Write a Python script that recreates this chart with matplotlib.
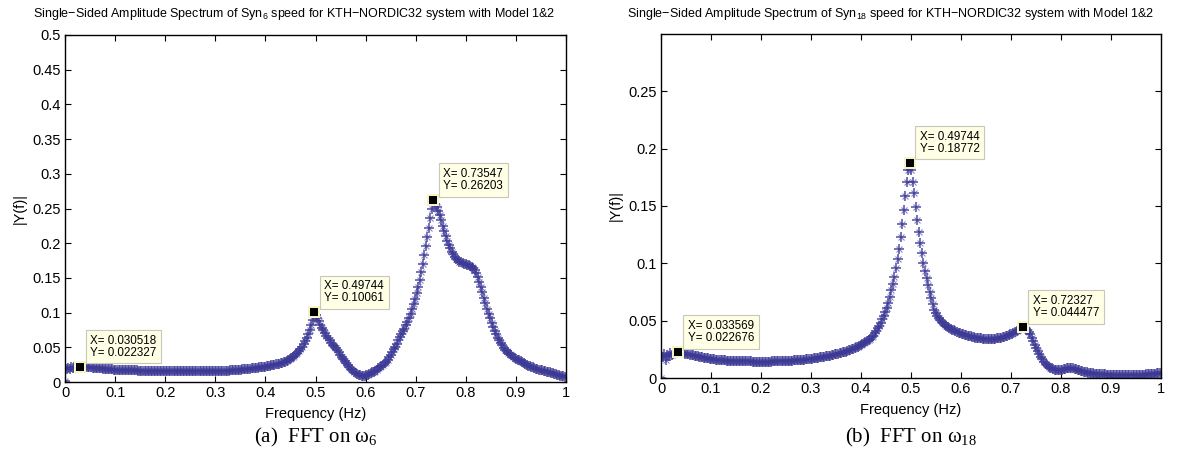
import numpy as np
import matplotlib
matplotlib.use("Agg")
from matplotlib import pyplot as plt
from matplotlib.ticker import FuncFormatter, MultipleLocator

plt.rcParams['font.family'] = ['Liberation Sans', 'DejaVu Sans']
plt.rcParams['mathtext.default'] = 'regular'

# frequency resolution of the FFT (Hz)
df = 0.0030518
n_points = 328

# |Y(f)| of Syn6 speed, one value per frequency bin
amp_syn6 = [
    0.002, 0.019, 0.020, 0.019, 0.021, 0.020, 0.021, 0.021, 0.022, 0.022,
    0.022327, 0.0221, 0.0219, 0.0217, 0.0215, 0.0213, 0.0211, 0.0209, 0.0207, 0.0205,
    0.0203, 0.0201, 0.0199, 0.0197, 0.0195, 0.0193, 0.0191, 0.0189, 0.0187, 0.0185,
    0.0183, 0.0181, 0.0179, 0.0178, 0.0177, 0.0176, 0.0175, 0.0174, 0.0173, 0.0172,
    0.0171, 0.0170, 0.0170, 0.0169, 0.0168, 0.0167, 0.0167, 0.0166, 0.0165, 0.0165,
    0.0164, 0.0164, 0.0163, 0.0163, 0.0162, 0.0162, 0.0162, 0.0161, 0.0161, 0.0161,
    0.0160, 0.0160, 0.0160, 0.0160, 0.0160, 0.0160, 0.0160, 0.0159, 0.0159, 0.0159,
    0.0159, 0.0159, 0.0159, 0.0158, 0.0158, 0.0158, 0.0158, 0.0158, 0.0158, 0.0158,
    0.0158, 0.0158, 0.0157, 0.0157, 0.0157, 0.0157, 0.0157, 0.0157, 0.0157, 0.0157,
    0.0157, 0.0157, 0.0157, 0.0157, 0.0157, 0.0157, 0.0157, 0.0157, 0.0157, 0.0158,
    0.0158, 0.0159, 0.0160, 0.0161, 0.0162, 0.0163, 0.0164, 0.0165, 0.0166, 0.0167,
    0.0169, 0.0171, 0.0173, 0.0175, 0.0177, 0.0180, 0.0182, 0.0184, 0.0187, 0.0189,
    0.0192, 0.0194, 0.0197, 0.0199, 0.0202, 0.0205, 0.0208, 0.0210, 0.0213, 0.0216,
    0.0219, 0.0222, 0.0226, 0.0230, 0.0234, 0.0238, 0.0243, 0.0248, 0.0253, 0.0259,
    0.0265, 0.0271, 0.0278, 0.0286, 0.0295, 0.0305, 0.0316, 0.0329, 0.0343, 0.0360,
    0.0378, 0.0398, 0.0421, 0.0446, 0.0474, 0.0506, 0.0543, 0.0585, 0.0633, 0.0688,
    0.0750, 0.0815, 0.0900, 0.10061, 0.0970, 0.0920, 0.0872, 0.0828, 0.0785, 0.0744,
    0.0705, 0.0668, 0.0633, 0.0600, 0.0569, 0.0540, 0.0512, 0.0484, 0.0456, 0.0428,
    0.0395, 0.0362, 0.0330, 0.0299, 0.0270, 0.0242, 0.0216, 0.0192, 0.0170, 0.0150,
    0.0132, 0.0117, 0.0105, 0.0097, 0.0092, 0.0091, 0.0093, 0.0098, 0.0105, 0.0113,
    0.0125, 0.0137, 0.0150, 0.0164, 0.0179, 0.0195, 0.0212, 0.0230, 0.0249, 0.0269,
    0.0295, 0.0323, 0.0355, 0.0390, 0.0430, 0.0470, 0.0510, 0.0550, 0.0600, 0.0650,
    0.0690, 0.0730, 0.0770, 0.0820, 0.0870, 0.0920, 0.0980, 0.1050, 0.1120, 0.1200,
    0.1280, 0.1370, 0.1470, 0.1580, 0.1700, 0.1830, 0.1960, 0.2090, 0.2220, 0.2360,
    0.2490, 0.26203, 0.2570, 0.2520, 0.2465, 0.2410, 0.2335, 0.2255, 0.2175, 0.2100,
    0.2035, 0.1975, 0.1925, 0.1880, 0.1840, 0.1805, 0.1775, 0.1752, 0.1735, 0.1722,
    0.1712, 0.1704, 0.1697, 0.1690, 0.1682, 0.1675, 0.1660, 0.1638, 0.1608, 0.1565,
    0.1510, 0.1445, 0.1372, 0.1295, 0.1215, 0.1135, 0.1058, 0.0985, 0.0915, 0.0850,
    0.0790, 0.0735, 0.0685, 0.0640, 0.0598, 0.0560, 0.0526, 0.0495, 0.0467, 0.0442,
    0.0420, 0.0400, 0.0382, 0.0366, 0.0351, 0.0337, 0.0324, 0.0312, 0.0300, 0.0289,
    0.0270, 0.0258, 0.0247, 0.0237, 0.0227, 0.0218, 0.0209, 0.0201, 0.0193, 0.0186,
    0.0179, 0.0172, 0.0166, 0.0160, 0.0154, 0.0148, 0.0143, 0.0138, 0.0133, 0.0128,
    0.0120, 0.0113, 0.0106, 0.0099, 0.0092, 0.0086, 0.0080, 0.0075,
]

# |Y(f)| of Syn18 speed
amp_syn18 = [
    0.000, 0.018, 0.021, 0.016, 0.020, 0.019, 0.022, 0.020, 0.021, 0.022,
    0.0225, 0.022676, 0.0225, 0.0222, 0.0219, 0.0216, 0.0213, 0.0210, 0.0207, 0.0204,
    0.0201, 0.0198, 0.0195, 0.0192, 0.0189, 0.0186, 0.0183, 0.0180, 0.0177, 0.0175,
    0.0173, 0.0171, 0.0169, 0.0167, 0.0165, 0.0163, 0.0161, 0.0159, 0.0157, 0.0156,
    0.0155, 0.0154, 0.0153, 0.0152, 0.0151, 0.0150, 0.0149, 0.0148, 0.0148, 0.0147,
    0.0147, 0.0146, 0.0146, 0.0145, 0.0145, 0.0145, 0.0144, 0.0144, 0.0144, 0.0144,
    0.0143, 0.0143, 0.0143, 0.0143, 0.0143, 0.0143, 0.0143, 0.0143, 0.0143, 0.0143,
    0.0143, 0.0143, 0.0143, 0.0144, 0.0144, 0.0144, 0.0145, 0.0145, 0.0146, 0.0146,
    0.0147, 0.0148, 0.0148, 0.0149, 0.0150, 0.0151, 0.0152, 0.0153, 0.0154, 0.0155,
    0.0156, 0.0157, 0.0158, 0.0160, 0.0161, 0.0162, 0.0164, 0.0165, 0.0167, 0.0169,
    0.0171, 0.0173, 0.0175, 0.0177, 0.0179, 0.0181, 0.0183, 0.0185, 0.0188, 0.0190,
    0.0193, 0.0196, 0.0199, 0.0202, 0.0205, 0.0208, 0.0212, 0.0215, 0.0219, 0.0223,
    0.0227, 0.0231, 0.0236, 0.0240, 0.0245, 0.0250, 0.0256, 0.0261, 0.0267, 0.0274,
    0.0281, 0.0288, 0.0296, 0.0304, 0.0313, 0.0323, 0.0333, 0.0344, 0.0356, 0.0369,
    0.0395, 0.0412, 0.0432, 0.0455, 0.0482, 0.0512, 0.0545, 0.0575, 0.0610, 0.0651,
    0.0709, 0.0767, 0.0820, 0.0884, 0.0957, 0.1035, 0.1122, 0.1227, 0.1343, 0.1465,
    0.1587, 0.1712, 0.1814, 0.18772, 0.1814, 0.1712, 0.1610, 0.1488, 0.1378, 0.1276,
    0.1174, 0.1087, 0.1000, 0.0936, 0.0870, 0.0812, 0.0753, 0.0695, 0.0646, 0.0593,
    0.0565, 0.0542, 0.0522, 0.0505, 0.0490, 0.0477, 0.0466, 0.0456, 0.0447, 0.0439,
    0.0430, 0.0422, 0.0415, 0.0408, 0.0402, 0.0396, 0.0391, 0.0386, 0.0381, 0.0377,
    0.0373, 0.0369, 0.0365, 0.0362, 0.0359, 0.0356, 0.0353, 0.0351, 0.0349, 0.0347,
    0.0345, 0.0343, 0.0342, 0.0341, 0.0340, 0.0340, 0.0340, 0.0341, 0.0342, 0.0343,
    0.0345, 0.0347, 0.0350, 0.0353, 0.0356, 0.0360, 0.0364, 0.0369, 0.0374, 0.0380,
    0.0387, 0.0395, 0.0403, 0.0412, 0.0421, 0.0430, 0.0438, 0.044477, 0.0438, 0.0428,
    0.0415, 0.0400, 0.0380, 0.0352, 0.0322, 0.0292, 0.0262, 0.0234, 0.0208, 0.0184,
    0.0162, 0.0143, 0.0126, 0.0112, 0.0100, 0.0090, 0.0083, 0.0078, 0.0074, 0.0072,
    0.0071, 0.0071, 0.0072, 0.0074, 0.0077, 0.0080, 0.0083, 0.0085, 0.0086, 0.0085,
    0.0083, 0.0080, 0.0076, 0.0072, 0.0068, 0.0064, 0.0060, 0.0056, 0.0053, 0.0050,
    0.0047, 0.0045, 0.0043, 0.0041, 0.0039, 0.0037, 0.0036, 0.0035, 0.0034, 0.0033,
    0.0032, 0.0031, 0.0030, 0.0030, 0.0029, 0.0029, 0.0028, 0.0028, 0.0028, 0.0027,
    0.0027, 0.0027, 0.0027, 0.0027, 0.0027, 0.0027, 0.0027, 0.0027, 0.0027, 0.0027,
    0.0027, 0.0027, 0.0027, 0.0028, 0.0028, 0.0029, 0.0029, 0.0030, 0.0031, 0.0032,
    0.0033, 0.0034, 0.0035, 0.0036, 0.0038, 0.0040, 0.0042, 0.0045,
]

# data tips
tips6_x = [0.030518, 0.49744, 0.73547]
tips6_y = [0.022327, 0.10061, 0.26203]
tips18_x = [0.033569, 0.49744, 0.72327]
tips18_y = [0.022676, 0.18772, 0.044477]

titles = ['Single\u2212Sided Amplitude Spectrum of Syn$_{6}$ speed for KTH\u2212NORDIC32 system with Model 1&2',
          'Single\u2212Sided Amplitude Spectrum of Syn$_{18}$ speed for KTH\u2212NORDIC32 system with Model 1&2']
captions = ['(a)  FFT on \u03c9$_{6}$', '(b)  FFT on \u03c9$_{18}$']

freq = np.arange(n_points) * df

line_color = '#3d3a96'


def g_fmt(v, pos):
    return '%g' % round(v, 4)


def draw_panel(ax, y, tx, ty, ymax, yticks_top):
    ax.plot(freq, y, linestyle='none', marker='+', markersize=6.5,
            markeredgewidth=1.1, color=line_color, alpha=0.9)
    ax.plot(freq, y, linestyle='none', marker='x', markersize=4.5,
            markeredgewidth=0.8, color=line_color, alpha=0.6)
    for xi, yi in zip(tx, ty):
        ax.plot(xi, yi, 's', markersize=8.5, color='#f4f4c4', markeredgewidth=0, zorder=5)
        ax.plot(xi, yi, 's', markersize=5.5, color='black', markeredgewidth=0, zorder=6)
        ax.annotate('X= %.5g\nY= %.5g' % (xi, yi), xy=(xi, yi), xytext=(10, 8),
                    textcoords='offset pixels', ha='left', va='bottom', fontsize=8.4,
                    linespacing=1.0, zorder=7,
                    bbox=dict(boxstyle='square,pad=0.4', fc='#ffffe6', ec='#c8c8b8', lw=0.8))
    ax.set_xlim(0, 1)
    ax.set_ylim(0, ymax)
    ax.xaxis.set_major_locator(MultipleLocator(0.1))
    ax.set_yticks(np.arange(0, yticks_top + 1e-9, 0.05))
    ax.xaxis.set_major_formatter(FuncFormatter(g_fmt))
    ax.yaxis.set_major_formatter(FuncFormatter(g_fmt))
    ax.tick_params(direction='in', top=True, right=True, length=4, width=0.8,
                   labelsize=10.5, pad=3)
    for s in ax.spines.values():
        s.set_linewidth(1.0)
    ax.set_xlabel('Frequency (Hz)', fontsize=10.5, labelpad=5)
    ax.set_ylabel('|Y(f)|', fontsize=10.5, labelpad=4)


fig = plt.figure(figsize=(12, 4.58), dpi=100)
ax1 = fig.add_axes([65 / 1200, 76 / 458, 501 / 1200, 347 / 458])
ax2 = fig.add_axes([661 / 1200, 80 / 458, 500 / 1200, 344 / 458])

draw_panel(ax1, amp_syn6, tips6_x, tips6_y, 0.5, 0.5)
draw_panel(ax2, amp_syn18, tips18_x, tips18_y, 0.3, 0.25)

fig.text(294.5 / 1200, 1 - 14 / 458, titles[0], ha='center', va='center', fontsize=9)
fig.text(891 / 1200, 1 - 14 / 458, titles[1], ha='center', va='center', fontsize=9)
serif = ['Liberation Serif', 'DejaVu Serif']
fig.text(315.5 / 1200, 1 - 437 / 458, captions[0], ha='center', va='center', fontsize=15, family=serif)
fig.text(911 / 1200, 1 - 437 / 458, captions[1], ha='center', va='center', fontsize=15, family=serif)

fig.savefig('out.png', dpi=100)
